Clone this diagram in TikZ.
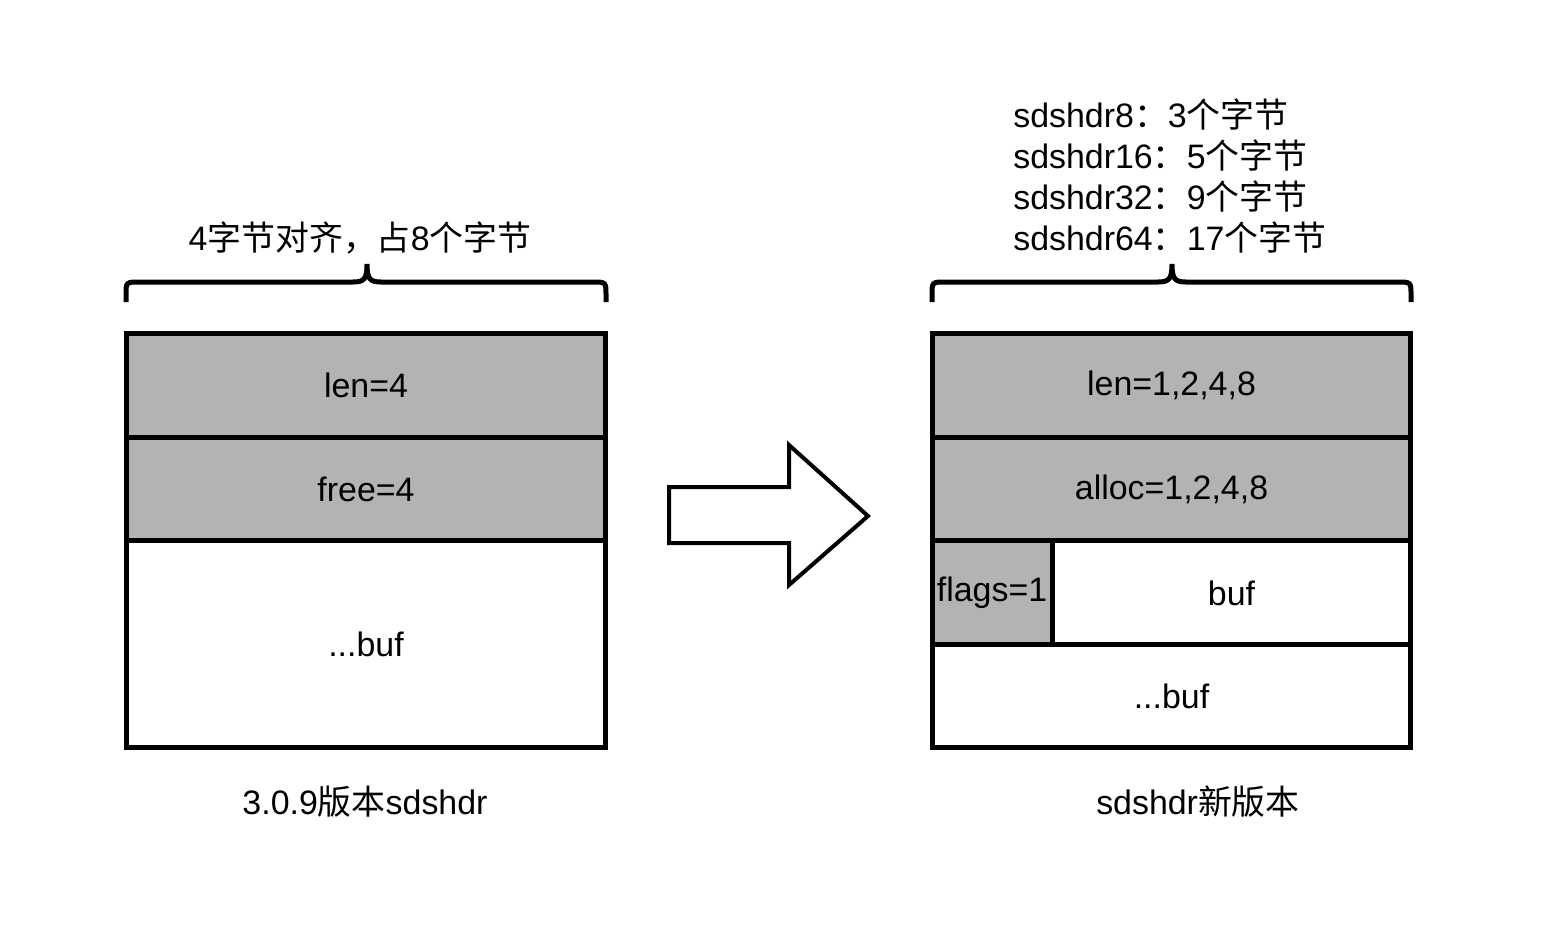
\documentclass[tikz,border=0pt]{standalone}
\usepackage{fontspec}
\setmainfont{Liberation Sans}
\newfontfamily\cjk{Noto Sans CJK SC}
\usepackage{tikz}
\usetikzlibrary{positioning}
\definecolor{cellgray}{HTML}{B3B3B3}

\begin{document}
\begin{tikzpicture}[x=0.02cm, y=-0.02cm,
        cell/.style={draw, line width=0.1cm, inner sep=0pt, outer sep=0pt, minimum width=9.6cm,
            font=\fontsize{19.3}{22}\selectfont},
        head/.style={cell, fill=cellgray, minimum height=2.08cm},
        label/.style={inner sep=0pt, font=\fontsize{19.3}{23.3}\selectfont}]
    \useasboundingbox (0,0) rectangle (1564,934);

    \node[head] (len) at (366,385) {len=4};
    \node[head, below=0pt of len] (free) {free=4};
    \node[cell, minimum height=4.14cm, below=0pt of free] (buf) {...buf};

    \node[head, minimum width=9.58cm] (newlen) at (1171.5,385) {len=1,2,4,8};
    \node[head, minimum width=9.58cm, below=0pt of newlen] (alloc) {alloc=1,2,4,8};
    \node[head, minimum width=2.4cm, anchor=north west] (flags) at (alloc.south west) {flags=1};
    \node[cell, minimum width=7.18cm, minimum height=2.08cm, anchor=north west] (sbuf) at (flags.north east) {buf};
    \node[cell, minimum width=9.58cm, minimum height=2.06cm, anchor=north west] (rest) at (flags.south west) {...buf};

    \foreach \a/\m/\b in {126/367/606, 932/1172/1411}
        \draw[line width=0.1cm] (\a,302) -- (\a,295) .. controls (\a,282) .. ({\a+14},282)
            -- ({\m-14},282) .. controls ({\m-3},282) and (\m,279) .. (\m,264)
            .. controls (\m,279) and ({\m+3},282) .. ({\m+14},282)
            -- ({\b-14},282) .. controls (\b,282) .. (\b,295) -- (\b,302);

    \draw[line width=0.08cm] (669,487) -- (789,487) -- (789,445) -- (868,516)
        -- (789,585) -- (789,543) -- (669,543) -- cycle;

    \node[label] (oldsize) at (360,238) {4{\cjk 字节对齐，占}8{\cjk 个字节}};
    \node[label, align=left, anchor=west] (newsize) at (1013,176) {%
        sdshdr8{\cjk ：}3{\cjk 个字节}\\
        sdshdr16{\cjk ：}5{\cjk 个字节}\\
        sdshdr32{\cjk ：}9{\cjk 个字节}\\
        sdshdr64{\cjk ：}17{\cjk 个字节}};
    \node[label] (oldname) at (365,802) {3.0.9{\cjk 版本}sdshdr};
    \node[label] (newname) at (1198,802) {sdshdr{\cjk 新版本}};
\end{tikzpicture}
\end{document}
